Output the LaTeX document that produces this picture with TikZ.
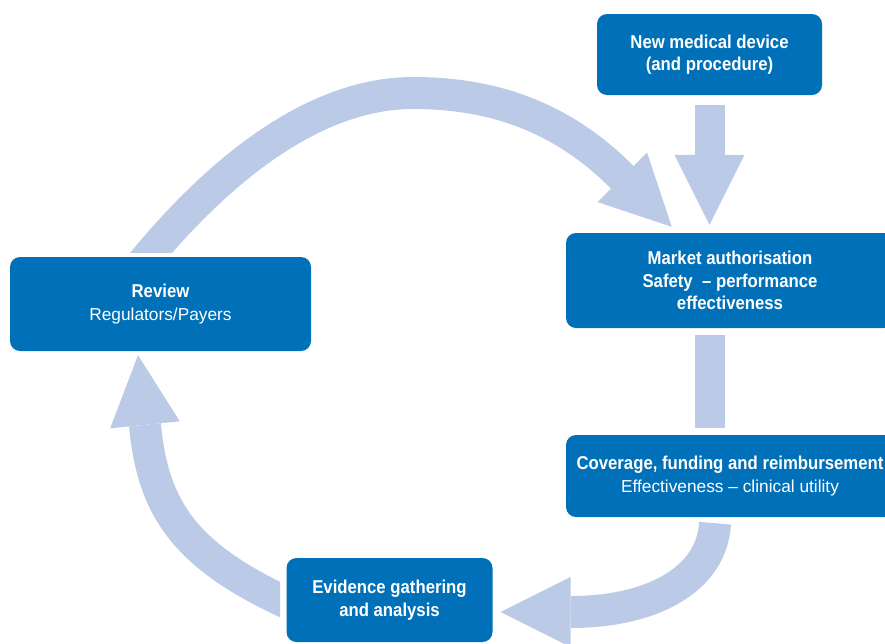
\documentclass[tikz,border=0pt]{standalone}
\usepackage{fontspec}
\setmainfont{Liberation Sans}
\newfontfamily\condfont{Liberation Sans}[FakeStretch=0.9, Ligatures=TeX]
\usetikzlibrary{arrows.meta,calc}
\definecolor{boxblue}{RGB}{0,112,184}
\definecolor{flowblue}{RGB}{187,203,231}
\newcommand{\subline}[1]{{\normalfont\fontsize{17.3}{22.5}\selectfont #1}}

\begin{document}
\begin{tikzpicture}[x=1pt, y=-1pt,
    stagebox/.style={fill=boxblue, text=white, rounded corners=10pt, inner sep=0pt, align=center,
      font=\condfont\bfseries\fontsize{18.6}{22.5}\selectfont},
    flowband/.style={draw=flowblue, line width=30pt},
    fathead/.style={-{Triangle[length=70pt, width=70pt, line width=0pt]}}]
  \useasboundingbox (0,0) rectangle (885,643);

  % Stages
  \node[stagebox, minimum width=225pt, minimum height=81pt] (device) at (709.5,54.5) {New medical device\\(and procedure)};
  \node[stagebox, minimum width=328pt, minimum height=95pt] (market) at (730,280.5) {Market authorisation\\Safety\ \ -- performance\\effectiveness};
  \node[stagebox, minimum width=328pt, minimum height=82pt] (coverage) at (730,476) {Coverage, funding and reimbursement\\\subline{Effectiveness -- clinical utility}};
  \node[stagebox, minimum width=206pt, minimum height=84pt] (evidence) at (389.5,600) {Evidence gathering\\and analysis};
  \node[stagebox, minimum width=301pt, minimum height=94pt] (review) at (160.5,304) {Review\\\subline{Regulators/Payers}};

  % Arrow ends
  \coordinate (arcstart) at ($(review.north)+(-19.5,8)$);
  \coordinate (arctop) at (413,93);
  \coordinate (arctip) at ($(market.north west)+(106,-6)$);
  \coordinate (covstart) at ($(coverage.south)+(-15,6)$);
  \coordinate (evidtip) at ($(evidence.east)+(8,12)$);
  \coordinate (evidstart) at ($(evidence.west)+(7.5,6)$);
  \coordinate (revtip) at ($(review.south)+(-22.5,4)$);

  % Straight arrows
  \draw[flowband, fathead] ([yshift=-10pt]device.south) -- ([yshift=8pt]device.south |- market.north);
  \draw[flowband] ([yshift=-7pt]device.south |- market.south) -- ([yshift=7pt]device.south |- coverage.north);

  % Curved arrows
  \begin{scope}
    \clip (0,0) rectangle (885,252);
    \draw[flowband, line width=32pt, fathead] (arcstart) .. controls +(63,-77) and +(-110,0) .. (arctop)
      .. controls +(80,0) and +(-60,-60) .. ($(arctip)+(-50,-50)$) -- (arctip);
  \end{scope}
  \draw[flowband, line width=32pt, fathead] (covstart) .. controls +(-3,57) and +(80,0) .. ($(evidtip)+(70,0)$) -- (evidtip);
  \begin{scope}
    \clip (0,0) rectangle (280,643);
    \draw[flowband, line width=32pt, fathead] (evidstart) .. controls +(-109,-49) and +(8,84) .. ($(revtip)+(7,70)$) -- (revtip);
  \end{scope}
\end{tikzpicture}
\end{document}
